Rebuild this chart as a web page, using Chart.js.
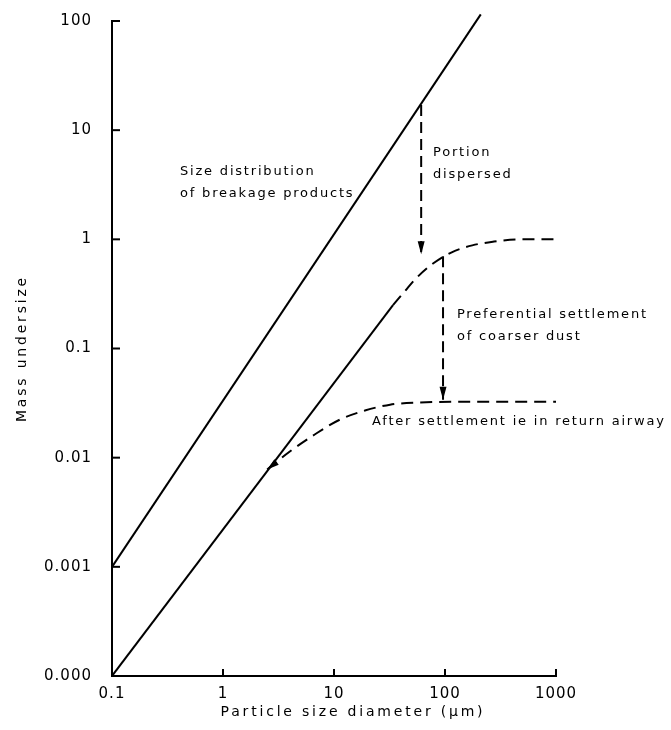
<!DOCTYPE html>
<html>
<head>
<meta charset="utf-8">
<script src="https://cdn.jsdelivr.net/npm/chart.js@4.4.1/dist/chart.umd.min.js"></script>
<style>
  html, body { margin: 0; padding: 0; background: #fff; }
</style>
</head>
<body>
<canvas id="chart" width="671" height="730"></canvas>
<script>
//axis ticks
const xTicks = [0.1, 1, 10, 100, 1000];
const xTickLabels = ["0.1", "1", "10", "100", "1000"];
const yTicks = [0.0001, 0.001, 0.01, 0.1, 1, 10, 100];
const yTickLabels = ["0.000", "0.001", "0.01", "0.1", "1", "10", "100"];

//size distribution of breakage products
const breakageX = [0.1, 210];
const breakageY = [0.001, 115];

//airborne part, solid stretch
const airborneX = [0.1, 34];
const airborneY = [0.0001, 0.25];

//portion dispersed, levels off at 1
const dispersedX = [34, 43, 55, 78, 115, 176, 270, 470, 1000];
const dispersedY = [0.25, 0.33, 0.44, 0.6, 0.76, 0.88, 0.95, 1.0, 1.0];

//after settlement (return airway)
const settledX = [2.5, 4.0, 6.7, 11.3, 19, 32, 60, 136, 1000];
const settledY = [0.0078, 0.0114, 0.0163, 0.0223, 0.027, 0.0306, 0.032, 0.0325, 0.0325];

//vertical arrows
const arrow1X = [61, 61];
const arrow1Y = [17, 0.73];
const arrow2X = [96, 96];
const arrow2Y = [0.7, 0.034];

//text notes on the plot (anchor = left / middle of first line)
const notes = [
  { lines: ["Size distribution", "of breakage products"], x: 0.41, y: 4.2 },
  { lines: ["Portion", "dispersed"], x: 78, y: 6.2 },
  { lines: ["Preferential settlement", "of coarser dust"], x: 128, y: 0.205 },
  { lines: ["After settlement ie in return airway"], x: 22, y: 0.0214 },
];

const FONT = "'DejaVu Sans', sans-serif";
Chart.defaults.font.family = FONT;
Chart.defaults.color = "#000";

function pts(xs, ys) {
  return xs.map((x, i) => ({ x: x, y: ys[i] }));
}

const solid = { borderColor: "#000", borderWidth: 2, pointRadius: 0, showLine: true, fill: false };
const dashed = { ...solid, borderDash: [12, 7] };

function arrowHead(ctx, from, to, len, half) {
  const a = Math.atan2(to.y - from.y, to.x - from.x);
  const c = Math.cos(a), s = Math.sin(a);
  ctx.beginPath();
  ctx.moveTo(to.x, to.y);
  ctx.lineTo(to.x - len * c + half * s, to.y - len * s - half * c);
  ctx.lineTo(to.x - len * c - half * s, to.y - len * s + half * c);
  ctx.closePath();
  ctx.fill();
}

const paper = {
  id: "paper",
  beforeUpdate(chart) {
    chart.ctx.letterSpacing = "1px";
  },
  beforeDraw(chart) {
    chart.ctx.letterSpacing = "1px";
  },
  afterDraw(chart) {
    const ctx = chart.ctx;
    const xs = chart.scales.x, ys = chart.scales.y;
    const area = chart.chartArea;
    ctx.save();
    ctx.strokeStyle = "#000";
    ctx.fillStyle = "#000";
    ctx.lineWidth = 2;

    //inward tick marks
    yTicks.slice(1).forEach((v) => {
      const py = ys.getPixelForValue(v);
      ctx.beginPath();
      ctx.moveTo(area.left, py);
      ctx.lineTo(area.left + 8, py);
      ctx.stroke();
    });
    xTicks.slice(1).forEach((v) => {
      const px = xs.getPixelForValue(v);
      ctx.beginPath();
      ctx.moveTo(px, area.bottom);
      ctx.lineTo(px, area.bottom - 7);
      ctx.stroke();
    });

    //arrow heads
    const m1 = chart.getDatasetMeta(4).data;
    const m2 = chart.getDatasetMeta(5).data;
    const ms = chart.getDatasetMeta(3).data;
    arrowHead(ctx, m1[0], m1[1], 13, 3.5);
    arrowHead(ctx, m2[0], m2[1], 13, 3.5);
    arrowHead(ctx, ms[1], ms[0], 12, 3.5);

    //notes
    ctx.font = "13px " + FONT;
    ctx.letterSpacing = "1.8px";
    ctx.textAlign = "left";
    ctx.textBaseline = "middle";
    notes.forEach((n) => {
      const px = xs.getPixelForValue(n.x);
      const py = ys.getPixelForValue(n.y);
      n.lines.forEach((t, i) => ctx.fillText(t, px, py + i * 22));
    });

    //axis titles
    ctx.font = "14px " + FONT;
    ctx.letterSpacing = "2.8px";
    ctx.textAlign = "center";
    ctx.fillText("Particle size diameter (\u03bcm)", area.left + 241, 712);
    ctx.translate(22, (area.top + area.bottom) / 2);
    ctx.rotate(-Math.PI / 2);
    ctx.fillText("Mass undersize", 0, 0);
    ctx.restore();
  },
};

const chart = document.getElementById("chart").getContext("2d");

new Chart(chart, {
  type: "scatter",
  data: {
    datasets: [
      { ...solid, label: "breakage", data: pts(breakageX, breakageY), clip: false },
      { ...solid, label: "airborne", data: pts(airborneX, airborneY) },
      { ...dashed, label: "dispersed", data: pts(dispersedX, dispersedY), cubicInterpolationMode: "monotone", clip: false },
      { ...dashed, label: "settled", data: pts(settledX, settledY), cubicInterpolationMode: "monotone", clip: false },
      { ...dashed, label: "arrow1", data: pts(arrow1X, arrow1Y), borderDash: [11, 6] },
      { ...dashed, label: "arrow2", data: pts(arrow2X, arrow2Y), borderDash: [11, 6] },
    ],
  },
  options: {
    responsive: false,
    animation: false,
    layout: { padding: { left: 0, right: 115, top: 21, bottom: 0 } },
    plugins: { legend: { display: false }, tooltip: { enabled: false } },
    scales: {
      x: {
        type: "logarithmic",
        min: 0.1,
        max: 1000,
        afterBuildTicks: (s) => { s.ticks = xTicks.map((v) => ({ value: v })); },
        afterFit: (s) => { s.height = 54; },
        grid: { display: false },
        border: { color: "#000", width: 2 },
        ticks: {
          font: { size: 15 },
          padding: 1,
          maxRotation: 0,
          autoSkip: false,
          callback: (v, i) => xTickLabels[i],
        },
      },
      y: {
        type: "logarithmic",
        min: 0.0001,
        max: 100,
        afterBuildTicks: (s) => { s.ticks = yTicks.map((v) => ({ value: v })); },
        afterFit: (s) => { s.width = 112; },
        grid: { display: false },
        border: { color: "#000", width: 2 },
        ticks: {
          font: { size: 15 },
          padding: 12,
          autoSkip: false,
          callback: (v, i) => yTickLabels[i],
        },
      },
    },
  },
  plugins: [paper],
});
</script>
</body>
</html>
